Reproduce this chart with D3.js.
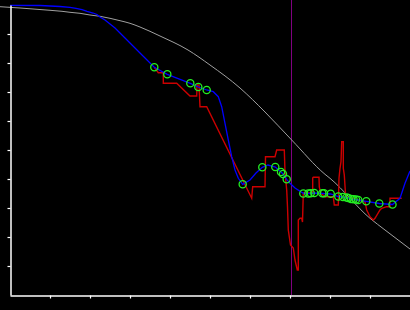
<!DOCTYPE html>
<html>
<head>
<meta charset="utf-8">
<script src="https://cdn.jsdelivr.net/npm/d3@7"></script>
<style>
html,body{margin:0;padding:0;background:#000;overflow:hidden;}
svg{display:block;}
</style>
</head>
<body>
<svg id="chart" width="410" height="310"></svg>
<script>
// tick values (unlabelled)
const xTicks = [40, 80, 120, 160, 200, 240, 280, 320, 360];
const yTicks = [29, 58, 87, 116, 145, 174, 203, 232, 261];
const markerX = 281;

// smooth reference curve
const curveX = [-10, 10, 27, 40, 52, 60, 70, 80, 90, 100, 110, 120, 130, 150, 178, 200, 230, 255, 281.7, 315, 320, 360, 375, 400];
const curveY = [288.3, 287, 285.7, 284.7, 283.7, 282.7, 281.7, 280, 278.7, 276.7, 274.3, 271.7, 268, 259, 245, 230, 207, 183, 155, 120.7, 116.7, 76.7, 65, 46];

// blue series
const blueX = [0, 30, 50, 60, 66, 72, 77, 83, 87, 90, 95, 100, 105, 110, 115, 120, 130, 144.3, 157.3, 180.3, 188.3, 196.7, 203.3, 208.3, 211.7, 215, 218.3, 221.7, 225, 228.3, 232.7, 240, 246, 252.3, 258, 265.3, 271, 273, 276.7, 280, 285, 293.3, 298.3, 300.7, 304.3, 312.3, 314, 320.5, 328.3, 333, 338.3, 341.7, 345, 348.3, 356.3, 369.3, 382.5, 390, 395, 400];
const blueY = [289.7, 289.5, 288.5, 287.7, 286.7, 285.3, 283.7, 282, 280.5, 278, 275, 271, 267, 262, 257, 252, 242, 227.7, 220.7, 211.7, 208, 205, 203.3, 198.3, 188.3, 171.7, 155, 138.3, 125, 116.7, 110.7, 115, 122, 127.7, 130, 128, 123, 121, 115.7, 111.7, 107, 101.7, 101.5, 101.7, 102, 101.7, 101.5, 101, 98.5, 98, 97, 95.7, 95.5, 95, 93.7, 91.5, 90.5, 96.7, 111.7, 124];

// red series
const redX = [144.3, 148.3, 153.3, 153.3, 166.7, 180, 186.7, 187, 189, 190, 196.7, 241.7, 242.7, 255, 255.5, 265, 266.7, 274.3, 275, 276.7, 277.5, 278.3, 280.5, 283.3, 285, 287.3, 288.3, 288.3, 290, 291.7, 292.5, 293.3, 302.7, 302.7, 303.3, 309, 309.3, 310.7, 315, 323.3, 324.3, 328.3, 329, 330, 331, 331.7, 333.3, 333.3, 334.3, 335.7, 348.3, 355, 356.7, 360, 363.3, 365, 370, 371.7, 376.7, 380, 380, 391.7];
const redY = [227.7, 222.3, 222.3, 211.7, 211.7, 199, 199, 210, 210, 188.3, 188.3, 96.7, 108.3, 108.3, 138.3, 138.3, 145, 145, 123.3, 105, 88, 65, 50, 47, 35, 25, 25, 75, 76.7, 76.7, 73, 102, 102, 117, 117.7, 117.7, 108, 102, 98.3, 98.3, 90, 90, 116.7, 126.7, 133.3, 153.3, 153.3, 126.7, 120, 98.3, 95, 93.3, 85, 78.3, 75, 76.7, 85, 86.7, 88.3, 88.3, 96.7, 96.7];

// green markers
const markX = [144.3, 157.3, 180.3, 188.3, 196.7, 232.7, 252.3, 265.3, 271, 273, 276.7, 293.3, 298.3, 300.7, 304.3, 312.3, 314, 320.7, 328.3, 333, 336.5, 338.3, 341, 343.5, 346, 348.3, 356.3, 369.3, 382.5];
const markY = [227.7, 220.7, 211.7, 208, 205, 110.7, 127.7, 128, 123, 121, 115.7, 101.5, 101.5, 101.7, 102, 101.7, 101.7, 101.3, 98.5, 98, 97.5, 97, 96, 95.7, 95.5, 95, 93.7, 91.5, 90.5];

const svg = d3.select("#chart");
svg.append("rect").attr("width", 410).attr("height", 310).attr("fill", "#000");

const x = d3.scaleLinear().domain([0, 400]).range([10, 410]);
const y = d3.scaleLinear().domain([0, 290]).range([295, 5]);

const zip = (xs, ys) => xs.map((v, i) => [v, ys[i]]);
const line = d3.line().x(d => x(d[0])).y(d => y(d[1]));

// vertical marker line
svg.append("line")
  .attr("x1", x(markerX) + 0.5).attr("x2", x(markerX) + 0.5)
  .attr("y1", 0).attr("y2", y(0))
  .attr("stroke", "#800080").attr("stroke-width", 1);

// gray curve
svg.append("path")
  .attr("d", d3.line().x(d => x(d[0])).y(d => y(d[1])).curve(d3.curveMonotoneX)(zip(curveX, curveY)))
  .attr("fill", "none").attr("stroke", "#a0a0a0").attr("stroke-width", 1);

// red
svg.append("path")
  .attr("d", line(zip(redX, redY)))
  .attr("fill", "none").attr("stroke", "#cc0000").attr("stroke-width", 1.4);

// blue
svg.append("path")
  .attr("d", line(zip(blueX, blueY)))
  .attr("fill", "none").attr("stroke", "#0000ff").attr("stroke-width", 1.3);

// markers
svg.append("g").selectAll("circle")
  .data(zip(markX, markY))
  .join("circle")
  .attr("cx", d => x(d[0])).attr("cy", d => y(d[1]))
  .attr("r", 3.6)
  .attr("fill", "none").attr("stroke", "#22ee22").attr("stroke-width", 1.3);

// axes
const xAxis = d3.axisBottom(x).tickValues(xTicks).tickSize(3).tickSizeOuter(0).tickFormat("");
const yAxis = d3.axisLeft(y).tickValues(yTicks).tickSize(3).tickSizeOuter(0).tickFormat("");

const gx = svg.append("g").attr("transform", `translate(0,${y(0) + 0.5})`).call(xAxis);
const gy = svg.append("g").attr("transform", `translate(${x(0) + 0.5},0)`).call(yAxis);
[gx, gy].forEach(g => {
  g.select(".domain").attr("stroke", "#fff").attr("stroke-width", 1.5);
  g.selectAll(".tick line").attr("stroke", "#fff").attr("stroke-width", 1.2);
});
</script>
</body>
</html>
